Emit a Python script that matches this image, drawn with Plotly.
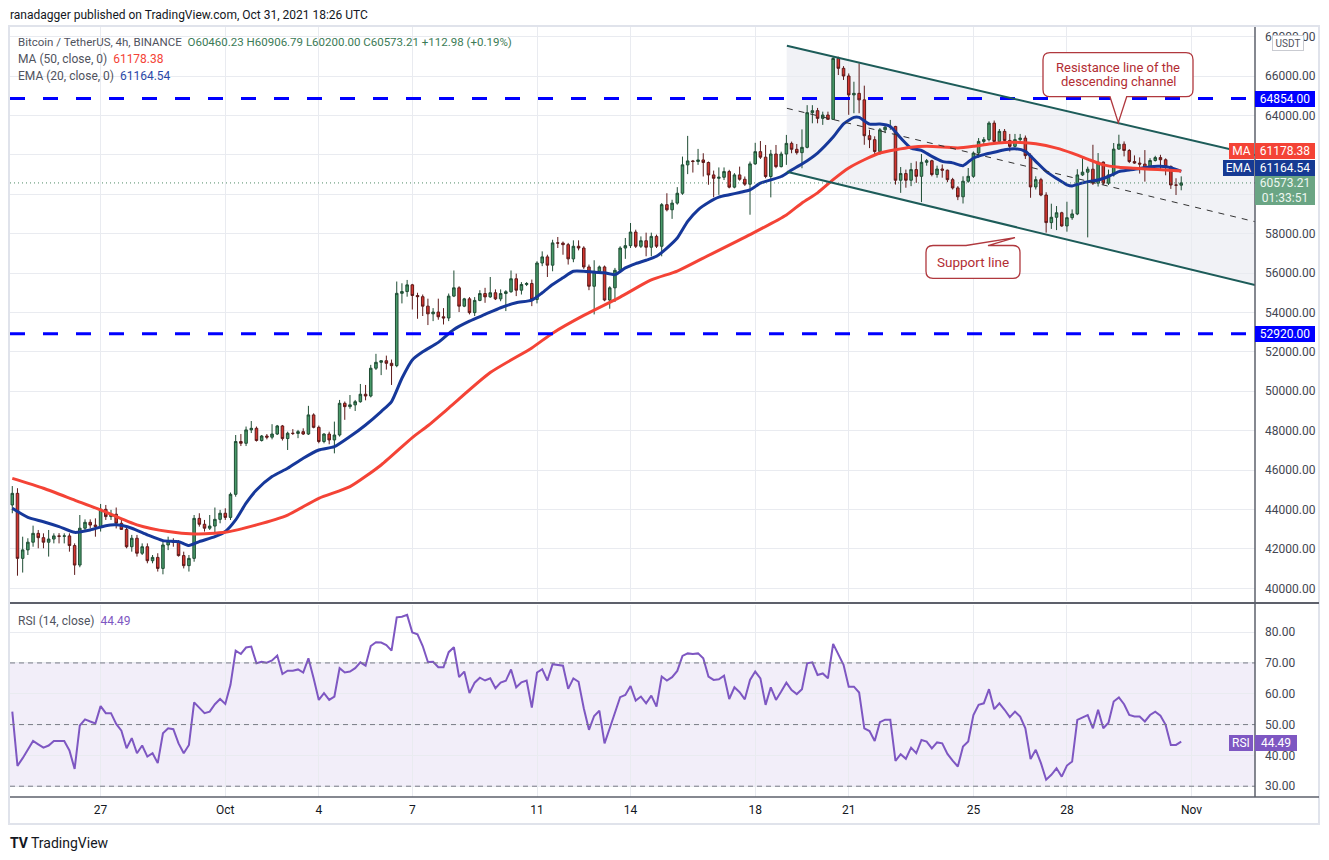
import pandas as pd
import plotly.graph_objects as go

# BTC/USDT 4h candles, Sep 24 04:00 -> Oct 31 16:00
opens = [
    44230, 44820, 41520, 41950, 42340, 42790, 42570, 42340, 42500, 42660,
    42640, 42660, 42170, 41180, 43050, 43350, 43210, 43130, 44010, 43640,
    43760, 43300, 42990, 42110, 42540, 41780, 42110, 41400, 41570, 41010,
    42200, 42400, 42330, 41660, 41150, 41520, 43550, 43250, 43050, 43160,
    43500, 43810, 43600, 44770, 47450, 47360, 48040, 48120, 47500, 47730,
    47670, 47830, 48240, 47600, 47870, 47860, 47950, 47830, 48800, 48170,
    47450, 47830, 47530, 47780, 49390, 49220, 49310, 49470, 49850, 49760,
    51170, 51470, 51550, 51420, 51300, 54970, 55060, 55400, 54860, 54800,
    54320, 53930, 54020, 53780, 53720, 54830, 55250, 54320, 54690, 53990,
    54610, 54960, 54790, 55000, 54690, 54960, 55050, 55710, 55130, 55420,
    55470, 54660, 56510, 56820, 56400, 57530, 57520, 57440, 56720, 57360,
    57270, 56310, 55330, 56090, 56310, 54630, 55250, 56140, 57270, 57390,
    58080, 57360, 57640, 57310, 57860, 57360, 59470, 59210, 59550, 60050,
    61490, 61690, 61660, 61740, 61610, 60980, 60810, 60860, 61150, 60360,
    60980, 60760, 60510, 61540, 62160, 61880, 60900, 62040, 61400, 62040,
    62580, 62280, 62110, 62380, 64140, 64240, 63850, 64020, 63800, 66890,
    66390, 66000, 65040, 65120, 64790, 62970, 62770, 62170, 63270, 63400,
    63440, 60710, 61050, 60710, 61250, 60910, 61620, 61700, 61000, 61280,
    61220, 60740, 60320, 59870, 60660, 60910, 62090, 62680, 62770, 63610,
    62680, 63190, 62730, 62430, 62770, 62850, 61960, 60370, 60740, 59960,
    58560, 58830, 59060, 58390, 58810, 59000, 60980, 61120, 61270, 60560,
    61630, 60560, 60980, 62290, 62540, 62220, 61660, 61580, 61530, 61370,
    61710, 61860, 61750, 61410, 60470, 60460.23,
]
highs = [
    45190, 45080, 42620, 42540, 43180, 42960, 42790, 42960, 42790, 42800,
    42790, 42790, 42280, 43720, 43500, 43500, 43550, 44280, 44230, 43980,
    44100, 43470, 43210, 42710, 42710, 42280, 42280, 41690, 41780, 42370,
    42620, 42540, 42450, 41860, 41690, 43720, 43810, 43470, 43720, 44100,
    43980, 44060, 44860, 47780, 47830, 48210, 48490, 48210, 47780, 47830,
    48330, 48290, 48290, 47950, 48080, 48040, 48120, 49260, 48880, 48260,
    47870, 47950, 48460, 49560, 49480, 49810, 49560, 50370, 50320, 51340,
    51900, 51560, 51810, 51610, 55570, 55480, 55650, 55450, 55000, 54910,
    54700, 54220, 54700, 54220, 54960, 56130, 55330, 54740, 54780, 54780,
    55130, 55250, 55800, 55170, 55170, 55130, 56130, 55970, 55540, 55540,
    55670, 56600, 57100, 56930, 57690, 57830, 57600, 57530, 57660, 57660,
    57360, 56430, 56650, 56380, 56380, 55330, 56260, 57360, 57780, 58540,
    58200, 57860, 58050, 58050, 57950, 59550, 60050, 59720, 60360, 61910,
    62960, 61740, 62300, 62080, 61660, 61200, 61360, 61360, 61240, 61070,
    61400, 60900, 61660, 62610, 62700, 62500, 62250, 62500, 62160, 63010,
    62670, 62550, 63290, 64520, 64520, 64380, 64190, 64190, 66980, 66980,
    66500, 66130, 65710, 66640, 65510, 63270, 62940, 63360, 63530, 63770,
    63470, 61380, 61250, 61590, 61670, 62040, 61790, 61750, 61450, 61510,
    61250, 60830, 60410, 60910, 61330, 62170, 62850, 62900, 63700, 63740,
    63310, 63310, 63060, 63060, 63060, 62980, 62070, 60910, 60830, 60100,
    59520, 59400, 59110, 59620, 59230, 61270, 61830, 61400, 62510, 62090,
    61660, 61250, 62600, 63020, 62680, 62290, 61970, 61870, 62240, 61830,
    61950, 62000, 61820, 61460, 60810, 60906.79,
]
lows = [
    43810, 40640, 40800, 41690, 42110, 42030, 42030, 41610, 42280, 42280,
    42280, 41860, 40680, 41070, 42960, 43040, 42620, 42880, 43470, 43470,
    43040, 42960, 42030, 41860, 41610, 41690, 41270, 41270, 40850, 40710,
    41940, 42110, 41610, 41010, 40850, 41350, 43130, 42880, 42960, 42830,
    43300, 43470, 43470, 44650, 47220, 47220, 47880, 47450, 47450, 47560,
    47560, 47780, 47500, 47020, 47780, 47620, 47780, 47780, 48120, 47360,
    47360, 47310, 46850, 47700, 48550, 49110, 49000, 49420, 49540, 49690,
    51080, 50820, 51100, 50320, 51220, 54460, 54800, 54150, 53680, 53820,
    53360, 53560, 53630, 53390, 53560, 54780, 54020, 54270, 53900, 53820,
    54570, 54490, 54740, 54630, 54570, 54070, 55000, 54830, 54910, 55340,
    54320, 54460, 56350, 55800, 56090, 57270, 56930, 56430, 56550, 57150,
    56210, 55130, 53900, 56010, 54570, 54190, 54530, 56090, 56720, 57270,
    57270, 57270, 56850, 56850, 57270, 56850, 59130, 58750, 59470, 59970,
    61020, 61100, 61490, 60900, 60480, 59850, 59970, 60720, 60300, 60300,
    60690, 60420, 58960, 61490, 61790, 60810, 59840, 61320, 61360, 61490,
    62080, 62010, 61320, 62330, 63600, 63600, 63520, 63810, 63770, 66050,
    65800, 64030, 64110, 64110, 62510, 62340, 62000, 62000, 63100, 63270,
    60490, 60070, 60330, 60410, 60580, 59600, 61450, 60910, 60840, 60840,
    60610, 60240, 59700, 59530, 60580, 60830, 61860, 62530, 62680, 62640,
    62600, 62560, 62170, 62390, 62600, 61790, 59820, 60240, 59900, 58050,
    58240, 58180, 58350, 58100, 58700, 58940, 60930, 57810, 60470, 60390,
    60470, 60470, 60900, 62250, 61920, 61580, 61540, 61050, 60640, 61240,
    61660, 61190, 60960, 60270, 59960, 60200.00,
]
closes = [
    44820, 41520, 41950, 42340, 42790, 42570, 42340, 42500, 42660, 42640,
    42660, 42170, 41180, 43050, 43350, 43210, 43130, 44010, 43640, 43760,
    43300, 42990, 42110, 42540, 41780, 42110, 41400, 41570, 41010, 42200,
    42400, 42330, 41660, 41150, 41520, 43550, 43250, 43050, 43160, 43500,
    43810, 43600, 44770, 47450, 47360, 48040, 48120, 47500, 47730, 47670,
    47830, 48240, 47600, 47870, 47860, 47950, 47830, 48800, 48170, 47450,
    47830, 47530, 47780, 49390, 49220, 49310, 49470, 49850, 49760, 51170,
    51470, 51550, 51420, 51300, 54970, 55060, 55400, 54860, 54800, 54320,
    53930, 54020, 53780, 53720, 54830, 55250, 54320, 54690, 53990, 54610,
    54960, 54790, 55000, 54690, 54960, 55050, 55710, 55130, 55420, 55470,
    54660, 56510, 56820, 56400, 57530, 57520, 57440, 56720, 57360, 57270,
    56310, 55330, 56090, 56310, 54630, 55250, 56140, 57270, 57390, 58080,
    57360, 57640, 57310, 57860, 57360, 59470, 59210, 59550, 60050, 61490,
    61690, 61660, 61740, 61610, 60980, 60810, 60860, 61150, 60360, 60980,
    60760, 60510, 61540, 62160, 61880, 60900, 62040, 61400, 62040, 62580,
    62280, 62110, 62380, 64140, 64240, 63850, 64020, 63800, 66890, 66390,
    66000, 65040, 65120, 64790, 62970, 62770, 62170, 63270, 63400, 63440,
    60710, 61050, 60710, 61250, 60910, 61620, 61700, 61000, 61280, 61220,
    60740, 60320, 59870, 60660, 60910, 62090, 62680, 62770, 63610, 62680,
    63190, 62730, 62430, 62770, 62850, 61960, 60370, 60740, 59960, 58560,
    58830, 59060, 58390, 58810, 59000, 60980, 61120, 61270, 60560, 61630,
    60560, 60980, 62290, 62540, 62220, 61660, 61580, 61530, 61370, 61710,
    61860, 61750, 61410, 60470, 60460, 60573.21,
]

# MA(50) and EMA(20) as drawn, sampled at candle numbers
ma50_idx = [0, 6, 12, 17, 24, 30, 35, 41, 47, 53, 59, 65, 71, 77, 80, 84, 92, 100,
            104, 110, 117, 123, 128, 133, 142, 149, 152, 155, 158, 161, 164,
            167, 170, 173, 176, 179, 182, 185, 188, 191, 194, 197, 201, 204, 207,
            210, 213, 216, 219, 222, 225]
ma50_val = [45580, 45080, 44480, 43980, 43220, 42880, 42760, 42840, 43220, 43720,
            44570, 45160, 46260, 47650, 48250, 49150, 50950, 52200, 52950, 53850,
            54780, 55650, 56100, 56760, 57950, 58950, 59560, 60070, 60740, 61330,
            61750, 62090, 62260, 62390, 62430, 62400, 62350, 62430, 62550, 62630,
            62630, 62560, 62340, 62085, 61780, 61490, 61370, 61320, 61270, 61230,
            61178.38]
ema20_idx = [0, 3, 6, 9, 12, 15, 18, 20, 23, 26, 29, 32, 34, 36, 39, 41, 43, 45,
             47, 50, 53, 56, 59, 62, 65, 68, 71, 73, 75, 77, 79, 82, 85, 88, 91,
             94, 97, 100, 102, 104, 106, 108, 110, 112, 114, 116, 118, 120, 122,
             124, 126, 128, 130, 132, 134, 136, 138, 140, 142, 144, 146, 148, 150,
             152, 155, 158, 160, 162, 163, 165, 167, 169, 171, 173, 175, 177, 179,
             181, 183, 185, 187, 189, 191, 193, 195, 197, 199, 201, 203, 204, 205,
             207, 209, 211, 213, 215, 217, 219, 221, 223, 225]
ema20_val = [44060, 43600, 43380, 43130, 42840, 42960, 43180, 43220, 43050, 42710,
             42420, 42370, 42170, 42370, 42620, 42880, 43470, 44320, 44990, 45670,
             46090, 46600, 47020, 47190, 47700, 48290, 48970, 49480, 50660, 51590,
             52000, 52480, 53140, 53560, 53900, 54240, 54490, 54630, 55000, 55420,
             55760, 56090, 56090, 56040, 56010, 55920, 56260, 56480, 56650, 56850,
             57270, 57780, 58620, 59210, 59580, 59850, 59970, 60090, 60220, 60560,
             60730, 60900, 61230, 61530, 62090, 62900, 63570, 63900, 63900, 63560,
             63560, 63440, 62850, 62340, 62230, 61920, 61670, 61590, 61450, 61840,
             62010, 62130, 62260, 62310, 62175, 61670, 61160, 60800, 60480, 60420,
             60500, 60640, 60720, 60900, 61150, 61230, 61300, 61400, 61420, 61350,
             61164.54]

# RSI(14), one value per candle
rsi = [
    54.2, 36.6, 39.1, 41.8, 44.7, 43.6, 42.5, 43.2, 44.7, 44.7,
    44.7, 41.6, 35.6, 49.7, 51.7, 51.0, 50.4, 56.0, 53.7, 53.7,
    50.2, 48.0, 42.3, 45.6, 40.7, 43.2, 39.6, 40.7, 37.5, 47.2,
    48.8, 48.5, 43.9, 40.7, 43.4, 57.2, 55.3, 53.7, 54.2, 56.6,
    58.3, 56.7, 62.9, 74.0, 72.9, 75.0, 75.3, 69.9, 70.4, 70.1,
    70.8, 72.4, 66.4, 67.5, 67.5, 67.9, 66.9, 71.5, 65.0, 58.0,
    60.2, 58.0, 59.1, 68.3, 66.9, 67.2, 68.3, 70.2, 69.1, 75.5,
    76.7, 76.6, 75.8, 74.0, 84.8, 85.0, 85.6, 79.9, 79.3, 75.5,
    70.3, 70.4, 68.6, 68.6, 73.5, 75.1, 65.4, 67.2, 60.2, 63.6,
    65.2, 64.3, 65.0, 61.8, 63.6, 64.2, 67.9, 62.1, 63.7, 64.3,
    55.5, 66.9, 68.0, 64.3, 69.6, 69.4, 69.1, 61.6, 65.0, 63.9,
    55.3, 48.3, 52.8, 54.5, 43.9, 48.8, 53.7, 58.9, 59.6, 62.5,
    57.8, 59.1, 56.9, 59.4, 55.8, 65.6, 64.3, 65.4, 67.4, 72.3,
    73.1, 72.9, 73.1, 71.5, 65.6, 64.5, 64.7, 65.9, 58.3, 62.1,
    60.5, 58.2, 64.5, 67.2, 65.0, 56.4, 62.1, 58.0, 60.7, 63.6,
    61.2, 59.9, 61.5, 69.9, 70.2, 66.1, 66.6, 65.0, 76.2, 72.6,
    69.4, 62.3, 62.3, 60.4, 48.8, 47.9, 44.7, 50.8, 51.6, 51.6,
    38.2, 40.4, 38.9, 42.5, 40.7, 45.0, 44.5, 42.3, 44.2, 43.9,
    40.5, 38.3, 36.4, 42.9, 44.5, 53.1, 56.4, 56.9, 61.5, 55.0,
    56.9, 54.8, 52.4, 54.2, 52.6, 48.8, 38.8, 41.8, 37.5, 32.1,
    33.7, 35.8, 33.1, 36.7, 38.0, 51.5, 52.4, 53.1, 48.8, 54.8,
    48.8, 50.6, 57.5, 58.8, 56.6, 53.1, 52.6, 52.6, 51.0, 53.1,
    54.2, 52.9, 49.9, 43.4, 43.4, 44.49,
]

tick_dates = ['2021-09-27', '2021-10-01', '2021-10-04', '2021-10-07', '2021-10-11',
              '2021-10-14', '2021-10-18', '2021-10-21', '2021-10-25', '2021-10-28',
              '2021-11-01']
tick_text = ['27', 'Oct', '4', '7', '11', '14', '18', '21', '25', '28', 'Nov']

price_ticks = list(range(40000, 68001, 2000))
# 60000 / 62000 sit under the last-price tags on the original, so their text is hidden
price_tick_text = ['' if v in (60000, 62000) else '%.2f' % v for v in price_ticks]

level_hi = 64854
level_lo = 52920

# ---------------------------------------------------------------- layout helpers
PAGE = 8                              # browser body margin
W, H = 1329 - PAGE, 860 - PAGE
L, R, T, B = 10, 1255, 27, 797        # plot area, page pixels
T0 = pd.Timestamp('2021-09-24 04:00')


def fx(x):
    return (x - L) / (R - L)


def fy(y):
    return (B - y) / (B - T)


def t_at(i):
    return (T0 + pd.Timedelta(hours=4 * i)).strftime('%Y-%m-%d %H:%M:%S')


def poly(points):
    s = 'M' + ' L'.join('%.5f,%.5f' % (fx(x), fy(y)) for x, y in points)
    return s + ' Z'


def callout(x0, y0, x1, y1, r, tail):
    pts = [('M', x0 + r, y0)]
    if tail[0] == 'top':
        pts += [('L',) + p for p in tail[1]]
    pts.append(('L', x1 - r, y0))
    pts.append(('Q', x1, y0, x1, y0 + r))
    pts.append(('L', x1, y1 - r))
    pts.append(('Q', x1, y1, x1 - r, y1))
    if tail[0] == 'bottom':
        pts += [('L',) + p for p in tail[1]]
    pts.append(('L', x0 + r, y1))
    pts.append(('Q', x0, y1, x0, y1 - r))
    pts.append(('L', x0, y0 + r))
    pts.append(('Q', x0, y0, x0 + r, y0))
    s = ''
    for p in pts:
        if p[0] == 'Q':
            s += 'Q%.5f,%.5f %.5f,%.5f ' % (fx(p[1]), fy(p[2]), fx(p[3]), fy(p[4]))
        else:
            s += '%s%.5f,%.5f ' % (p[0], fx(p[1]), fy(p[2]))
    return s + 'Z'


times = pd.date_range(T0, periods=len(closes), freq='4h')
ma_x = [times[i] for i in ma50_idx]
ema_x = [times[i] for i in ema20_idx]

GRID = '#e9ebf0'
TXT = '#131722'
AX = '#434651'

fig = go.Figure()

fig.add_trace(go.Candlestick(x=times, open=opens, high=highs, low=lows, close=closes,
                             increasing=dict(fillcolor='#489a69', line=dict(color='#1f4d34', width=1)),
                             decreasing=dict(fillcolor='#d3352e', line=dict(color='#5e1b1b', width=1)),
                             whiskerwidth=0, showlegend=False, xaxis='x', yaxis='y'))

fig.add_trace(go.Scatter(x=ema_x, y=ema20_val, mode='lines', showlegend=False,
                         line=dict(color='#16389a', width=3, shape='spline', smoothing=0.6)))
fig.add_trace(go.Scatter(x=ma_x, y=ma50_val, mode='lines', showlegend=False,
                         line=dict(color='#f44336', width=3, shape='spline', smoothing=0.6)))

fig.add_trace(go.Scatter(x=times, y=rsi, mode='lines', showlegend=False, xaxis='x2', yaxis='y2',
                         line=dict(color='#7e57c2', width=2)))

ch_x0, ch_x1 = t_at(149.1), t_at(239.2)

shapes = []
# outer frame
shapes.append(dict(type='rect', xref='paper', yref='paper', x0=fx(9), x1=fx(1319),
                   y0=fy(26), y1=fy(824), line=dict(color='#e0e3eb', width=2), layer='below'))
# channel shading (under the candles)
shapes.append(dict(type='path', xref='paper', yref='paper', layer='between',
                   fillcolor='rgba(200,205,218,0.25)', line=dict(width=0),
                   path=poly([(786.7, 45.7), (1255, 155), (1255, 285), (786.7, 171.7)])))
# RSI band + dashed levels
shapes.append(dict(type='rect', xref='paper', yref='y2', x0=0, x1=1, y0=30, y1=70,
                   fillcolor='rgba(126,87,194,0.1)', line=dict(width=0), layer='between'))
for lv in (30, 50, 70):
    shapes.append(dict(type='line', xref='paper', yref='y2', x0=0, x1=1, y0=lv, y1=lv,
                       line=dict(color='#787b86', width=1, dash='5px,4px')))
# horizontal levels
for lv in (level_hi, level_lo):
    shapes.append(dict(type='line', xref='paper', yref='y', x0=0, x1=1, y0=lv, y1=lv,
                       line=dict(color='#0000ff', width=3, dash='15px,18px')))
# last price dotted line
shapes.append(dict(type='line', xref='paper', yref='y', x0=0, x1=1, y0=closes[-1], y1=closes[-1],
                   line=dict(color='#4f8a66', width=1, dash='1px,3px')))
# channel lines
shapes.append(dict(type='line', xref='x', yref='y', x0=ch_x0, x1=ch_x1, y0=67538, y1=61991,
                   line=dict(color='#1d5c59', width=2)))
shapes.append(dict(type='line', xref='x', yref='y', x0=ch_x0, x1=ch_x1, y0=61143, y1=55393,
                   line=dict(color='#1d5c59', width=2)))
shapes.append(dict(type='line', xref='x', yref='y', x0=ch_x0, x1=ch_x1, y0=64361, y1=58606,
                   line=dict(color='#333333', width=1, dash='6px,6px')))
# pane separator, axis lines
shapes.append(dict(type='line', xref='paper', yref='paper', x0=0, x1=fx(1319), y0=fy(603), y1=fy(603),
                   line=dict(color='#5d606b', width=2)))
shapes.append(dict(type='line', xref='paper', yref='paper', x0=0, x1=fx(1319), y0=0, y1=0,
                   line=dict(color='#5d606b', width=1.5)))
shapes.append(dict(type='line', xref='paper', yref='paper', x0=1, x1=1, y0=0, y1=1,
                   line=dict(color='#5d606b', width=1.5)))
# callouts
CALL = '#b0383e'
shapes.append(dict(type='path', xref='paper', yref='paper', fillcolor='white',
                   line=dict(color=CALL, width=1.3),
                   path=callout(1043, 52.7, 1193, 96.7, 7,
                                ('bottom', [(1126.7, 96.7), (1118.3, 122.7), (1110, 96.7)]))))
shapes.append(dict(type='path', xref='paper', yref='paper', fillcolor='white',
                   line=dict(color=CALL, width=1.3),
                   path=callout(926, 245.5, 1020, 278.3, 7,
                                ('top', [(966, 245.5), (1015, 237.6), (988, 245.5)]))))

ann = []


def text(x, y, s, size=12.5, color=TXT, xanchor='left'):
    ann.append(dict(xref='paper', yref='paper', x=fx(x), y=fy(y), text=s, showarrow=False,
                    xanchor=xanchor, yanchor='middle', font=dict(size=size, color=color)))


def box(x0, x1, y0, y1, s, bg, fc='white', size=12, border=None):
    ann.append(dict(xref='paper', yref='paper', x=fx(x0), y=fy((y0 + y1) / 2), text=s,
                    showarrow=False, xanchor='left', yanchor='middle', width=x1 - x0,
                    height=y1 - y0, bgcolor=bg, borderpad=0, align='center',
                    bordercolor=border if border else bg, borderwidth=1 if border else 0,
                    font=dict(size=size, color=fc)))


GRAY = '#50535e'
GREEN = '#3b7b56'
text(8, 15, 'ranadagger published on TradingView.com, Oct 31, 2021 18:26 UTC', 12, TXT)
text(16, 42, "<span style='color:%s'>Bitcoin / TetherUS, 4h, BINANCE</span>  "
     "<span style='color:%s'>O60460.23 H60906.79 L60200.00 C60573.21 +112.98 (+0.19%%)</span>"
     % (GRAY, GREEN), 11.5)
text(16, 59, "<span style='color:%s'>MA (50, close, 0)</span>  <span style='color:#f44336'>61178.38</span>"
     % GRAY, 12)
text(16, 76, "<span style='color:%s'>EMA (20, close, 0)</span>  <span style='color:#2a49a8'>61164.54</span>"
     % GRAY, 12)
text(16, 621, "<span style='color:%s'>RSI (14, close)</span>  <span style='color:#7e57c2'>44.49</span>"
     % GRAY, 12)

text(1118, 68, 'Resistance line of the', 13, '#b22d33', 'center')
text(1118, 81, 'descending channel', 13, '#b22d33', 'center')
text(973, 262, 'Support line', 13.5, '#b22d33', 'center')

# right-axis price tags
box(1255, 1315, 90.5, 106.5, '64854.00', '#0000ff')
box(1255, 1315, 326, 342, '52920.00', '#0000ff')
box(1229, 1254, 143, 158.5, 'MA', '#f44336')
box(1255, 1315, 143, 158.5, '61178.38', '#f44336')
box(1223, 1254, 160, 175.5, 'EMA', '#163a93')
box(1255, 1315, 160, 175.5, '61164.54', '#163a93')
box(1255, 1315, 176, 205, '60573.21<br>01:33:51', '#6aa584', '#eef7f1')
box(1272, 1302, 36, 50, 'USDT', 'white', '#50535e', 10, '#c9cbd1')
box(1229, 1253, 735, 751, 'RSI', '#7e57c2')
box(1255, 1297, 735, 751, '44.49', '#7e57c2')

# TradingView footer
text(8, 843, '<b>TV</b>', 14, TXT)
text(29, 843, 'TradingView', 14, TXT)

fig.update_layout(
    width=W, height=H,
    margin=dict(l=L - PAGE, r=W - (R - PAGE), t=T - PAGE, b=H - (B - PAGE)),
    paper_bgcolor='white', plot_bgcolor='white',
    font=dict(family='Roboto, DejaVu Sans, sans-serif', color=TXT),
    shapes=shapes, annotations=ann, showlegend=False, hovermode=False,
    xaxis=dict(domain=[0, 1], range=[t_at(-0.44), t_at(239.2)], anchor='y',
               tickvals=tick_dates, ticktext=tick_text, showticklabels=False,
               showgrid=True, gridcolor=GRID, zeroline=False, rangeslider=dict(visible=False)),
    yaxis=dict(domain=[fy(601), 1], range=[39356, 68487], side='right', anchor='x',
               tickvals=price_ticks, ticktext=price_tick_text,
               showgrid=True, gridcolor=GRID, zeroline=False, ticks='', ticklabelstandoff=9,
               tickfont=dict(size=12, color=AX)),
    xaxis2=dict(domain=[0, 1], matches='x', anchor='y2', range=[t_at(-0.44), t_at(239.2)],
                tickvals=tick_dates, ticktext=tick_text, showgrid=True, gridcolor=GRID,
                zeroline=False, ticks='', ticklabelstandoff=4, tickfont=dict(size=12, color=TXT)),
    yaxis2=dict(domain=[0, fy(605)], range=[26.5, 88.8], side='right', anchor='x2',
                tickvals=[30, 40, 50, 60, 70, 80], tickformat='.2f', showgrid=True,
                gridcolor=GRID, zeroline=False, ticks='', ticklabelstandoff=9,
                tickfont=dict(size=12, color=AX)),
)

fig.write_html('out.html')
